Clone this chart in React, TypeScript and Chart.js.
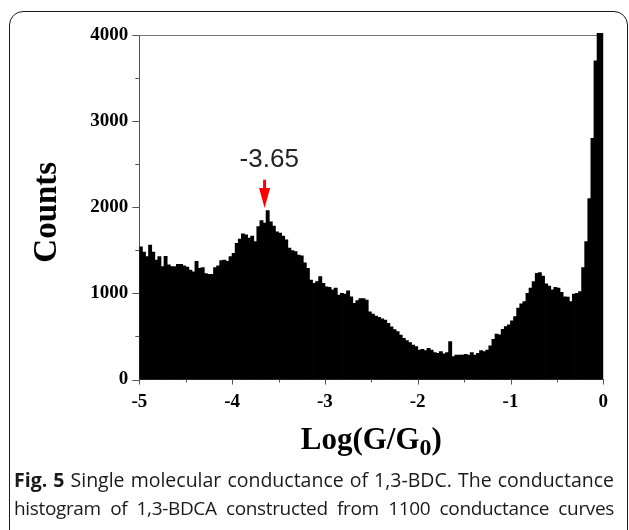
import React, { useEffect, useRef } from 'react';
import { Chart, registerables } from 'chart.js';

Chart.register(...registerables);

// ---- data ----
const BIN_START = -5;
const BIN_WIDTH = 1 / 30;
const counts: number[] = [
  1540, 1480, 1425, 1560, 1480, 1385, 1425, 1310, 1430, 1330,
  1310, 1310, 1335, 1335, 1320, 1305, 1270, 1250, 1370, 1290,
  1300, 1230, 1220, 1220, 1300, 1320, 1380, 1385, 1370, 1425,
  1465, 1580, 1630, 1690, 1680, 1640, 1665, 1600, 1775, 1845,
  1815, 1960, 1830, 1780, 1715, 1700, 1665, 1620, 1525, 1495,
  1485, 1445,
  1435, 1355, 1290, 1155, 1115, 1135, 1195, 1115, 1075, 1070,
  1040, 1060, 980, 1000, 990, 1030, 960, 885, 915, 940,
  940, 920, 785, 760, 735, 720, 705, 690, 650, 610,
  580, 555, 515, 478, 450, 427, 400, 380, 342, 350,
  335, 362, 342, 311, 304, 323, 296, 311,
  440,
  265, 284, 284, 284, 290, 284, 311, 284, 304, 335,
  323, 342, 390, 467, 528, 517, 583, 613, 633, 680,
  729, 827, 877, 903, 1000, 1060, 1135, 1233, 1240, 1200,
  1110, 1085, 1040, 1070, 1060, 1010, 960, 955, 903, 990,
  1000, 1020,
  1300, 1600, 2100, 2800, 3700, 4800, 4800,
];
const X_MIN = -5;
const X_MAX = 0;
const X_STEP = 0.5;
const Y_MIN = 0;
const Y_MAX = 4000;
const Y_STEP = 500;
const Y_MAJOR = 1000;

const Y_TITLE = 'Counts';
const X_TITLE_MAIN = 'Log(G/G';
const X_TITLE_SUB = '0';
const X_TITLE_END = ')';
const PEAK_LABEL = '-3.65';
const PEAK_X = -3.65;
const PEAK_LABEL_X = -3.6;
const PEAK_LABEL_Y = 2470;
const ARROW_TOP = 2320;
const ARROW_TIP = 1990;

const CAPTION_BOLD = 'Fig. 5';
const CAPTION_LINE1 = ' Single molecular conductance of 1,3-BDC. The conductance';
const CAPTION_LINE2 = 'histogram of 1,3-BDCA constructed from 1100 conductance curves';

const SERIF = '"Liberation Serif", "Times New Roman", serif';
const AXIS_COLOR = '#555';
const TICK_FONT = { family: SERIF, size: 19, weight: 'bold' as const };

const decorPlugin = {
  id: 'decor',
  beforeDatasetsDraw(chart: any) {
    const { ctx, chartArea: a } = chart;
    ctx.save();
    ctx.strokeStyle = '#777';
    ctx.lineWidth = 1;
    const ty = Math.round(a.top) + 0.5;
    ctx.beginPath();
    ctx.moveTo(a.left, ty);
    ctx.lineTo(a.right, ty);
    ctx.stroke();
    ctx.restore();
  },
  afterDraw(chart: any) {
    const { ctx, chartArea: a, scales } = chart;
    const xs = scales.x;
    const ys = scales.y;
    ctx.save();
    ctx.strokeStyle = AXIS_COLOR;
    ctx.lineWidth = 1;
    // y ticks (outside, left)
    ys.ticks.forEach((t: any) => {
      const py = Math.round(ys.getPixelForValue(t.value)) + 0.5;
      const len = t.value % Y_MAJOR === 0 ? 7 : 4;
      ctx.beginPath();
      ctx.moveTo(a.left - len, py);
      ctx.lineTo(a.left, py);
      ctx.stroke();
    });
    // x ticks (outside, below)
    xs.ticks.forEach((t: any) => {
      const px = Math.round(xs.getPixelForValue(t.value)) + 0.5;
      const len = Number.isInteger(t.value) ? 5 : 3;
      ctx.beginPath();
      ctx.moveTo(px, a.bottom);
      ctx.lineTo(px, a.bottom + len);
      ctx.stroke();
    });

    // y title
    ctx.fillStyle = '#000';
    ctx.font = `bold 33px ${SERIF}`;
    ctx.textAlign = 'center';
    ctx.textBaseline = 'middle';
    ctx.save();
    ctx.translate(47, (a.top + a.bottom) / 2 + 5);
    ctx.rotate(-Math.PI / 2);
    ctx.fillText(Y_TITLE, 0, 0);
    ctx.restore();

    // x title with subscript
    const mainFont = `bold 31px ${SERIF}`;
    const subFont = `bold 24px ${SERIF}`;
    ctx.textBaseline = 'alphabetic';
    ctx.textAlign = 'left';
    ctx.font = mainFont;
    const w1 = ctx.measureText(X_TITLE_MAIN).width;
    const w3 = ctx.measureText(X_TITLE_END).width;
    ctx.font = subFont;
    const w2 = ctx.measureText(X_TITLE_SUB).width;
    const total = w1 + w2 + w3;
    const cx = (a.left + a.right) / 2;
    const base = a.bottom + 69;
    const x0 = cx - total / 2;
    ctx.font = mainFont;
    ctx.fillText(X_TITLE_MAIN, x0, base);
    ctx.font = subFont;
    ctx.fillText(X_TITLE_SUB, x0 + w1, base + 6);
    ctx.font = mainFont;
    ctx.fillText(X_TITLE_END, x0 + w1 + w2, base);

    // peak annotation
    ctx.font = `26px "Liberation Sans", Arial, sans-serif`;
    ctx.fillStyle = '#222';
    ctx.textAlign = 'center';
    ctx.textBaseline = 'alphabetic';
    ctx.fillText(PEAK_LABEL, xs.getPixelForValue(PEAK_LABEL_X), ys.getPixelForValue(PEAK_LABEL_Y));

    const axp = xs.getPixelForValue(PEAK_X);
    const topY = ys.getPixelForValue(ARROW_TOP);
    const tipY = ys.getPixelForValue(ARROW_TIP);
    const headLen = 20;
    ctx.fillStyle = '#ff0000';
    ctx.fillRect(axp - 1.5, topY, 3, tipY - headLen - topY + 1);
    ctx.beginPath();
    ctx.moveTo(axp - 5.5, tipY - headLen);
    ctx.lineTo(axp + 5.5, tipY - headLen);
    ctx.lineTo(axp, tipY);
    ctx.closePath();
    ctx.fill();
    ctx.restore();
  },
};

export default function App() {
  const canvasRef = useRef<HTMLCanvasElement | null>(null);

  useEffect(() => {
    const canvas = canvasRef.current;
    if (!canvas) return;
    const points = counts.map((c, i) => ({ x: BIN_START + (i + 0.5) * BIN_WIDTH, y: c }));
    const chart = new Chart(canvas, {
      type: 'bar',
      data: {
        datasets: [
          {
            data: points as any,
            backgroundColor: '#000',
            borderWidth: 0,
            barPercentage: 1,
            categoryPercentage: 1,
            inflateAmount: 0.4,
            clip: { left: 0, right: 0, top: 2, bottom: 0 } as any,
          },
        ],
      },
      options: {
        responsive: false,
        animation: false,
        devicePixelRatio: 1,
        layout: { padding: { left: 0, top: 35, right: 25.7, bottom: 0.5 } },
        plugins: { legend: { display: false }, tooltip: { enabled: false } },
        scales: {
          x: {
            type: 'linear',
            min: X_MIN,
            max: X_MAX,
            offset: false,
            grid: { display: false, drawTicks: false, offset: false },
            border: { display: true, color: AXIS_COLOR, width: 1 },
            ticks: {
              stepSize: X_STEP,
              autoSkip: false,
              maxRotation: 0,
              padding: 11,
              color: '#000',
              font: TICK_FONT,
              callback: (v: any) => (Number.isInteger(Number(v)) ? String(v) : ''),
            },
            afterFit: (s: any) => {
              s.height = 90;
            },
          },
          y: {
            min: Y_MIN,
            max: Y_MAX,
            grid: { display: false, drawTicks: false },
            border: { display: true, color: AXIS_COLOR, width: 1 },
            ticks: {
              stepSize: Y_STEP,
              autoSkip: false,
              padding: 11,
              color: '#000',
              font: TICK_FONT,
              callback: (v: any) => (Number(v) % Y_MAJOR === 0 ? String(v) : ''),
            },
            afterFit: (s: any) => {
              s.width = 139.3;
            },
          },
        },
      },
      plugins: [decorPlugin],
    });
    return () => chart.destroy();
  }, []);

  const lineStyle: React.CSSProperties = {
    textAlign: 'justify',
    textAlignLast: 'justify' as any,
  };

  return (
    <div style={{ position: 'fixed', left: 0, top: 0, width: 629, height: 530, overflow: 'hidden', background: '#fff' }}>
      <div
        style={{
          position: 'absolute',
          left: 9,
          top: 11,
          width: 619,
          height: 600,
          boxSizing: 'border-box',
          border: '1.5px solid #1a1a1a',
          borderRadius: 14,
        }}
      />
      <canvas ref={canvasRef} width={629} height={470} style={{ position: 'absolute', left: 0, top: 0, width: 629, height: 470 }} />
      <div
        style={{
          position: 'absolute',
          left: 14,
          top: 466,
          width: 600,
          fontFamily: '"Open Sans", sans-serif',
          fontSize: 19.5,
          lineHeight: '28px',
          color: '#1a1a1a',
        }}
      >
        <div style={lineStyle}>
          <b>{CAPTION_BOLD}</b>
          {CAPTION_LINE1}
        </div>
        <div style={{ ...lineStyle, fontSize: 19, letterSpacing: -0.35 }}>{CAPTION_LINE2}</div>
      </div>
    </div>
  );
}
